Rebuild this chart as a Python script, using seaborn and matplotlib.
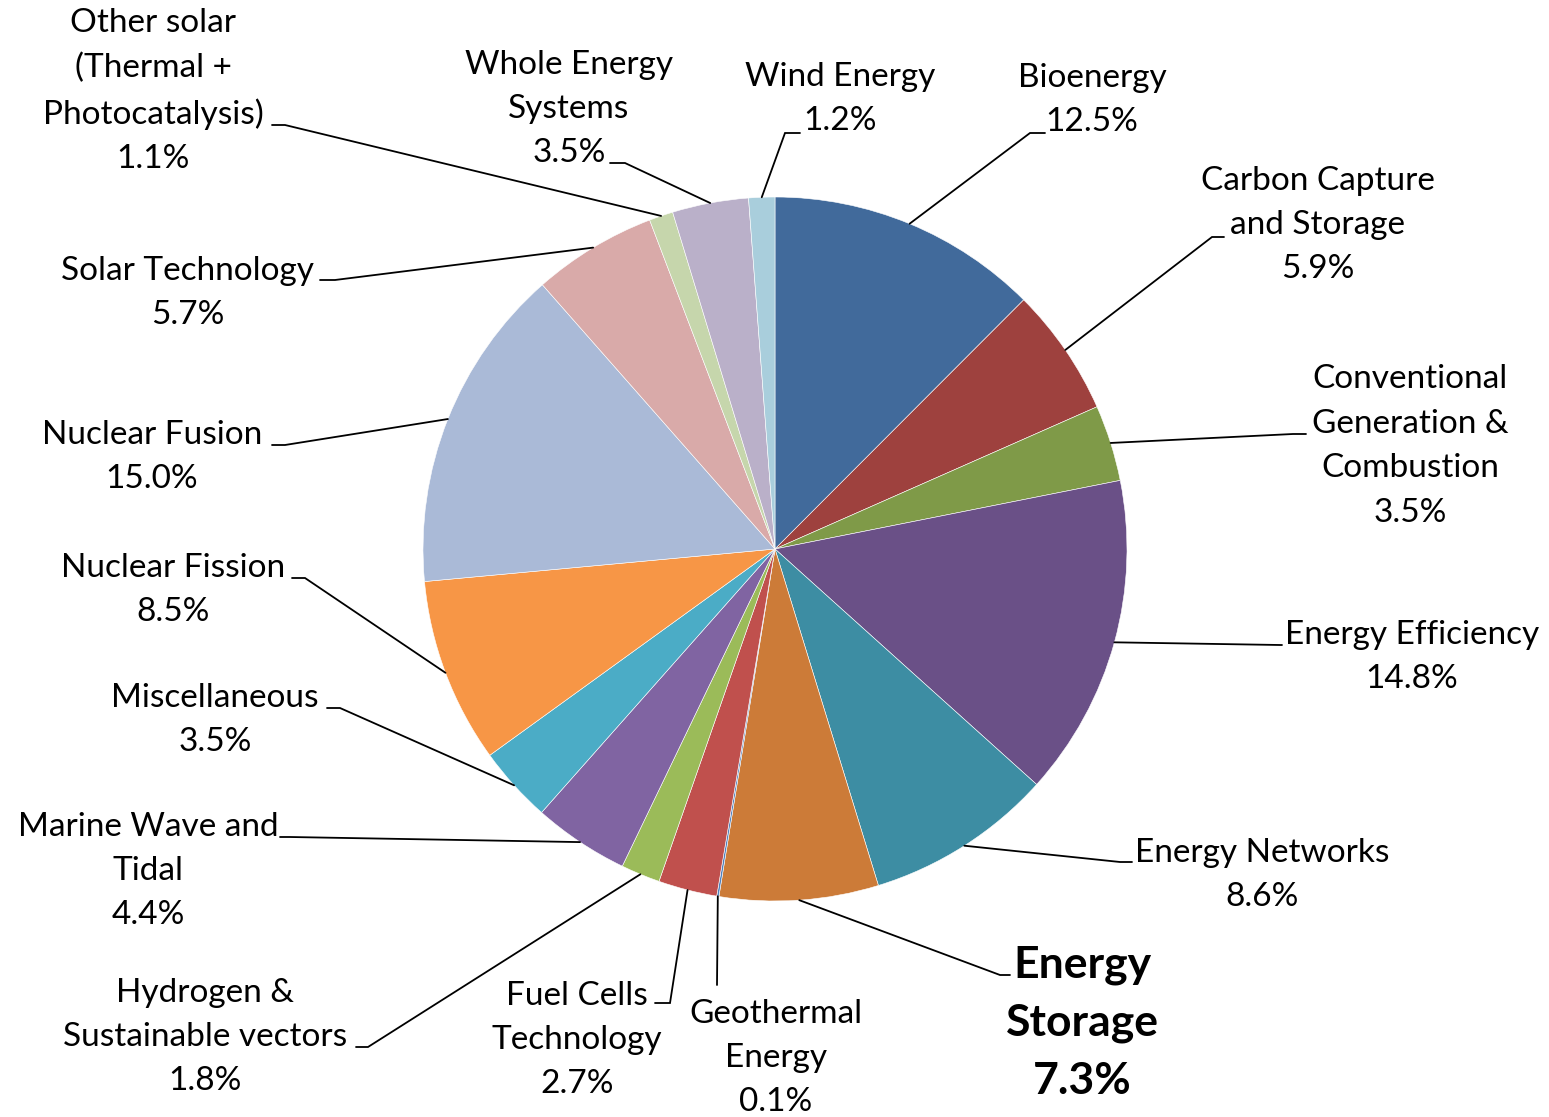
import numpy as np
import matplotlib
matplotlib.use("Agg")
import matplotlib.pyplot as plt
import seaborn as sns

sns.set_theme(style="white")
plt.rcParams['font.family'] = ['Lato', 'DejaVu Sans']

# ---- data ----
categories = ["Bioenergy", "Carbon Capture\nand Storage", "Conventional\nGeneration &\nCombustion",
              "Energy Efficiency", "Energy Networks", "Energy\nStorage", "Geothermal\nEnergy",
              "Fuel Cells\nTechnology", "Hydrogen &\nSustainable vectors", "Marine Wave and\nTidal",
              "Miscellaneous", "Nuclear Fission", "Nuclear Fusion", "Solar Technology",
              "Other solar\n(Thermal +\nPhotocatalysis)", "Whole Energy\nSystems", "Wind Energy"]
shares = [12.5, 5.9, 3.5, 14.8, 8.6, 7.3, 0.1, 2.7, 1.8, 4.4, 3.5, 8.5, 15.0, 5.7, 1.1, 3.5, 1.2]
colors = ["#416A9B", "#9E413E", "#7F9A48", "#6A5087", "#3D8DA3", "#CC7B38", "#4F81BD",
          "#C0504D", "#9BBB59", "#8064A2", "#4BACC6", "#F79646", "#AABAD7", "#D9AAA9",
          "#C6D6AC", "#BAB0C9", "#A9CEDC"]

# ---- layout (pixel coordinates, y measured from top) ----
W, H = 1549, 1117
cx, cy, R = 775, 549, 352
# label block centre, elbow point, label-side end of leader
label_pos = [(1092, 100), (1318, 225), (1410, 446), (1412, 657), (1262, 875), (1082, 1023),
             (776, 1058), (577, 1040), (205, 1037), (148, 871), (215, 720), (173, 590),
             (152, 457), (188, 293), (153, 91), (569, 109), (840, 99)]
elbows = [(1030, 133), (1212, 237), (1293, 434), (1280, 645), (1120, 862), (1000, 975),
          (717, 985), (670, 1003), (368, 1047), (290, 837), (340, 708), (305, 578),
          (285, 445), (335, 280), (285, 125), (625, 163), (785, 133)]
ends = [(1045, 133), (1224, 237), (1306, 434), (1282, 645), (1132, 862), (1010, 975),
        (717, 985), (655, 1003), (356, 1047), (280, 837), (327, 708), (292, 578),
        (272, 445), (320, 280), (272, 125), (610, 163), (800, 133)]

fig = plt.figure(figsize=(W / 100, H / 100), dpi=100)
ax = fig.add_axes([0, 0, 1, 1])

ax.pie(shares, colors=colors, startangle=90, counterclock=False,
       center=(cx, H - cy), radius=R, normalize=True,
       wedgeprops=dict(edgecolor="white", linewidth=0.4))

total = sum(shares)
cum = 0.0
for i, (cat, val) in enumerate(zip(categories, shares)):
    mid = (cum + val / 2) / total * 360.0
    cum += val
    theta = np.deg2rad(90 - mid)
    sx = cx + R * np.cos(theta)
    sy = H - cy + R * np.sin(theta)
    ex, ey = elbows[i]
    fx, fy = ends[i]
    ax.plot([sx, ex, fx], [sy, H - ey, H - fy], color="black", lw=1.3,
            solid_joinstyle="miter", zorder=3)
    lx, ly = label_pos[i]
    txt = f"{cat}\n{val:.1f}%"
    if i == 5:
        ax.text(lx, H - ly, txt, ha="center", va="center", fontsize=32,
                fontweight="bold", linespacing=1.53, color="black")
    else:
        ax.text(lx, H - ly, txt, ha="center", va="center", fontsize=24,
                linespacing=1.6, color="black")

ax.set_xlim(0, W)
ax.set_ylim(0, H)
ax.set_aspect("equal")
ax.axis("off")
fig.savefig("out.png", dpi=100, facecolor="white")
